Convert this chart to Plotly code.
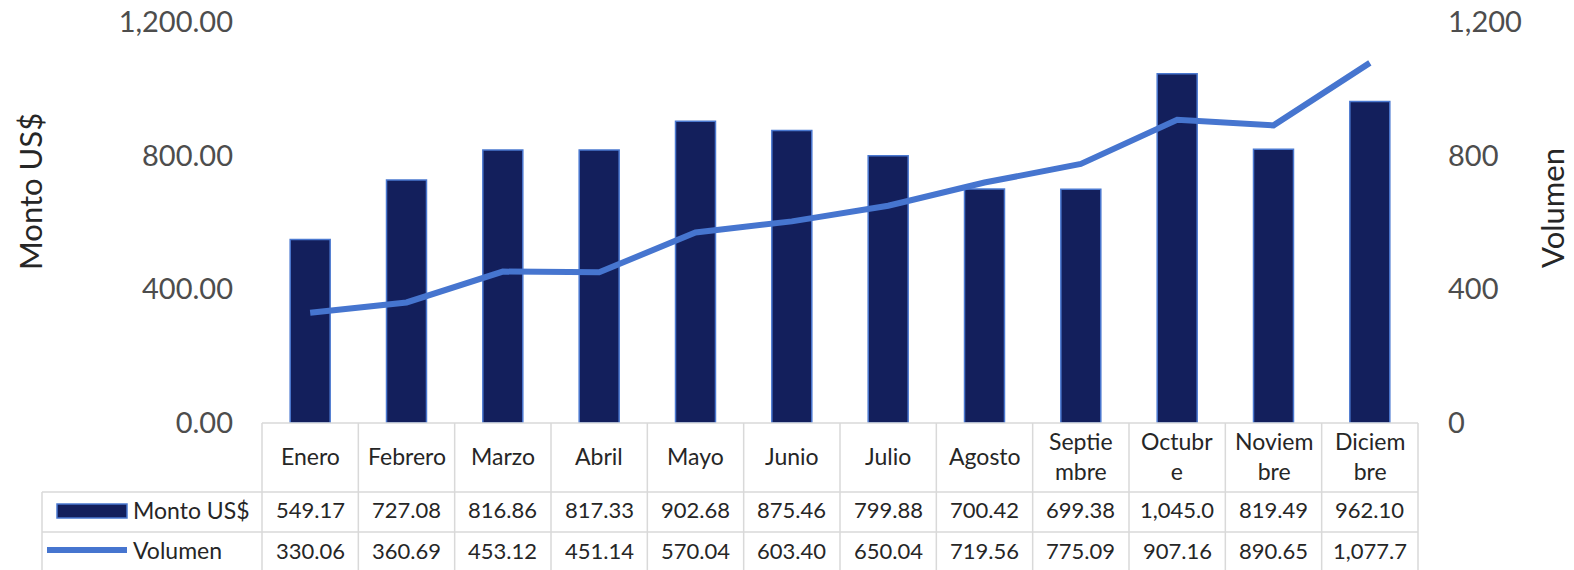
import plotly.graph_objects as go

months = ["Enero", "Febrero", "Marzo", "Abril", "Mayo", "Junio", "Julio",
          "Agosto", "Septiembre", "Octubre", "Noviembre", "Diciembre"]
month_labels = ["Enero", "Febrero", "Marzo", "Abril", "Mayo", "Junio", "Julio",
                "Agosto", "Septie<br>mbre", "Octubr<br>e", "Noviem<br>bre", "Diciem<br>bre"]
monto = [549.17, 727.08, 816.86, 817.33, 902.68, 875.46, 799.88,
         700.42, 699.38, 1045.00, 819.49, 962.10]
volumen = [330.06, 360.69, 453.12, 451.14, 570.04, 603.40, 650.04,
           719.56, 775.09, 907.16, 890.65, 1077.70]
left_ticks = [0, 400, 800, 1200]
right_ticks = [0, 400, 800, 1200]

NAVY = "#131F5C"
BLUE = "#4675CF"
GRID = "#D9D9D9"
FONT = "Lato"
TXT = "#262626"

W, H = 1574, 570
L, R, T, B = 262, 156, 22, 147
PW, PH = W - L - R, H - T - B


def px(xp):
    return (xp - L) / PW


def py(yp):
    return (H - B - yp) / PH


fig = go.Figure()
fig.add_trace(go.Bar(x=months, y=monto, name="Monto US$", width=0.415,
                     marker=dict(color=NAVY, line=dict(color="#4A78D0", width=1.5)),
                     yaxis="y"))
fig.add_trace(go.Scatter(x=months, y=volumen, name="Volumen", mode="lines",
                         line=dict(color=BLUE, width=6), yaxis="y2"))

shapes = []
ann = []
# table lines
y_top, y_h, y_r1, y_bot = py(423), py(492), py(532), py(575)
shapes.append(dict(type="line", xref="x domain", yref="paper", x0=0, x1=1, y0=y_top, y1=y_top,
                   line=dict(color=GRID, width=1.5)))
for yy in (y_h, y_r1):
    shapes.append(dict(type="line", xref="paper", yref="paper", x0=px(42), x1=1, y0=yy, y1=yy,
                       line=dict(color=GRID, width=1.5)))
for xd in (0, 1):
    shapes.append(dict(type="line", xref="x domain", yref="paper", x0=xd, x1=xd, y0=y_top, y1=y_bot,
                       line=dict(color=GRID, width=1.5)))
for i in range(len(months) - 1):
    shapes.append(dict(type="line", xref="x", yref="paper", x0=i + 0.5, x1=i + 0.5, y0=y_top, y1=y_bot,
                       line=dict(color=GRID, width=1.5)))
shapes.append(dict(type="line", xref="paper", yref="paper", x0=px(42), x1=px(42), y0=y_h, y1=y_bot,
                   line=dict(color=GRID, width=1.5)))

# legend swatches
shapes.append(dict(type="rect", xref="paper", yref="paper", x0=px(57), x1=px(127),
                   y0=py(518), y1=py(504), fillcolor=NAVY, line=dict(color="#4A78D0", width=1.5)))
shapes.append(dict(type="line", xref="paper", yref="paper", x0=px(47), x1=px(127),
                   y0=py(550), y1=py(550), line=dict(color=BLUE, width=6)))
ann.append(dict(xref="paper", yref="paper", x=px(131), y=py(510), text="Monto US$", showarrow=False,
                xanchor="left", yanchor="middle", font=dict(family=FONT, size=23, color=TXT)))
ann.append(dict(xref="paper", yref="paper", x=px(131), y=py(550), text="Volumen", showarrow=False,
                xanchor="left", yanchor="middle", font=dict(family=FONT, size=23, color=TXT)))

for i, m in enumerate(month_labels):
    ann.append(dict(xref="x", yref="paper", x=i, y=py(456), text=m, showarrow=False,
                    xanchor="center", yanchor="middle", font=dict(family=FONT, size=23, color=TXT)))
    ann.append(dict(xref="x", yref="paper", x=i, y=py(510), text=f"{monto[i]:,.2f}"[:7], showarrow=False,
                    xanchor="center", yanchor="middle", font=dict(family=FONT, size=22, color=TXT)))
    ann.append(dict(xref="x", yref="paper", x=i, y=py(550), text=f"{volumen[i]:,.2f}"[:7], showarrow=False,
                    xanchor="center", yanchor="middle", font=dict(family=FONT, size=22, color=TXT)))

# axis titles
ann.append(dict(xref="paper", yref="paper", x=px(30), y=py(192), text="Monto US$", showarrow=False,
                textangle=-90, xanchor="center", yanchor="middle",
                font=dict(family=FONT, size=31, color=TXT)))
ann.append(dict(xref="paper", yref="paper", x=px(1552), y=py(208), text="Volumen", showarrow=False,
                textangle=-90, xanchor="center", yanchor="middle",
                font=dict(family=FONT, size=31, color=TXT)))

fig.update_layout(
    width=W, height=H,
    margin=dict(l=L, r=R, t=T, b=B, pad=0, autoexpand=False),
    paper_bgcolor="white", plot_bgcolor="white",
    showlegend=False,
    bargap=0.585,
    xaxis=dict(type="category", range=[-0.5, 11.5], showticklabels=False, showgrid=False,
               zeroline=False, showline=False, ticks="", automargin=False),
    yaxis=dict(range=[0, 1200], tickvals=left_ticks, tickformat=",.2f", showgrid=False,
               zeroline=False, showline=False, ticks="", ticklabelstandoff=28, automargin=False,
               tickfont=dict(family=FONT, size=29, color="#4D4D4D")),
    yaxis2=dict(range=[0, 1200], tickvals=right_ticks, tickformat=",.0f", overlaying="y", side="right",
                showgrid=False, zeroline=False, showline=False, ticks="", ticklabelstandoff=29,
                automargin=False, tickfont=dict(family=FONT, size=29, color="#4D4D4D")),
    shapes=shapes, annotations=ann,
)

fig.write_html("out.html", config={"displayModeBar": False},
               post_script="document.body.style.margin='0';document.body.style.overflow='hidden';")
